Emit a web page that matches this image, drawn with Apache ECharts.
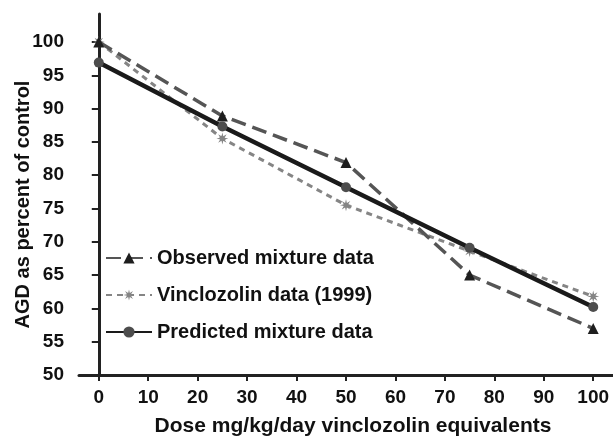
<!DOCTYPE html>
<html style="height: 100%">
   <head>
       <meta charset="utf-8">
   </head>
   <body style="height: 100%; margin: 0; background: #fff">
       <div id="container" style="width: 613px; height: 437px"></div>
       <script type="text/javascript" src="https://cdn.jsdelivr.net/npm/echarts@6/dist/echarts.min.js"></script>
       <script type="text/javascript">
var dom = document.getElementById("container");
var myChart = echarts.init(dom);

// dose (mg/kg/day vinclozolin equivalents)
var doses = [0, 25, 50, 75, 100];
var observed = [100, 88.9, 81.9, 65.0, 57.0];
var vinclozolin = [100, 85.5, 75.5, 68.6, 61.8];
var predicted = [96.9, 87.3, 78.2, 69.1, 60.2];
var xTicks = [0, 10, 20, 30, 40, 50, 60, 70, 80, 90, 100];

var names = ['Observed mixture data', 'Vinclozolin data (1999)', 'Predicted mixture data'];

var asterisk = 'path://M1 0L.37 .153L.707 .707L.153 .37L0 1L-.153 .37L-.707 .707L-.37 .153L-1 0L-.37 -.153L-.707 -.707L-.153 -.37L0 -1L.153 -.37L.707 -.707L.37 -.153Z';

function pairs(ys) {
    return doses.map(function (d, i) { return [d, ys[i]]; });
}

var font = 'Liberation Sans, Arial, sans-serif';

var option = {
    animation: false,
    grid: { left: 79, right: 0, top: 14, bottom: 62, outerBoundsMode: 'none', containLabel: false },
    legend: {
        orient: 'vertical',
        left: 100,
        top: 243,
        itemWidth: 46,
        itemHeight: 14,
        itemGap: 17,
        data: names,
        textStyle: { fontFamily: font, fontSize: 20, fontWeight: 'bold', color: '#111' }
    },
    xAxis: {
        type: 'value',
        min: -4,
        max: 104,
        name: 'Dose mg/kg/day vinclozolin equivalents',
        nameLocation: 'middle',
        nameGap: 41,
        nameMoveOverlap: false,
        nameTextStyle: { fontFamily: font, fontSize: 21, fontWeight: 'bold', color: '#111', padding: [0, 0, 0, 14] },
        axisLine: { onZero: false, lineStyle: { color: '#222', width: 3 } },
        axisTick: { show: true, length: 6, customValues: xTicks, lineStyle: { color: '#222', width: 2 } },
        axisLabel: { customValues: xTicks, margin: 13, fontFamily: font, fontSize: 19, fontWeight: 'bold', color: '#111' },
        splitLine: { show: false }
    },
    yAxis: {
        type: 'value',
        min: 50,
        max: 104.2,
        interval: 5,
        name: 'AGD as percent of control',
        nameLocation: 'middle',
        nameGap: 46,
        nameMoveOverlap: false,
        nameTextStyle: { fontFamily: font, fontSize: 20, fontWeight: 'bold', color: '#111', padding: [0, 20, 0, 0] },
        axisLine: { show: true, lineStyle: { color: '#222', width: 3 } },
        axisTick: { show: true, length: 7, lineStyle: { color: '#222', width: 2 } },
        axisLabel: { margin: 15, fontFamily: font, fontSize: 19, fontWeight: 'bold', color: '#111',
            showMaxLabel: false },
        splitLine: { show: false }
    },
    series: [
        {
            name: names[0],
            type: 'line',
            data: pairs(observed),
            symbol: 'triangle',
            symbolSize: 11,
            itemStyle: { color: '#1e1e1e' },
            lineStyle: { color: '#555', width: 3.5, type: [15, 7] },
            z: 3
        },
        {
            name: names[1],
            type: 'line',
            data: pairs(vinclozolin),
            symbol: asterisk,
            symbolSize: 12,
            itemStyle: { color: '#858585' },
            lineStyle: { color: '#858585', width: 3, type: [6, 5] },
            z: 2
        },
        {
            name: names[2],
            type: 'line',
            data: pairs(predicted),
            symbol: 'circle',
            symbolSize: 10,
            itemStyle: { color: '#4d4d4d' },
            lineStyle: { color: '#1a1a1a', width: 4.5 },
            z: 4
        }
    ]
};
myChart.setOption(option, true);
       </script>
   </body>
</html>
